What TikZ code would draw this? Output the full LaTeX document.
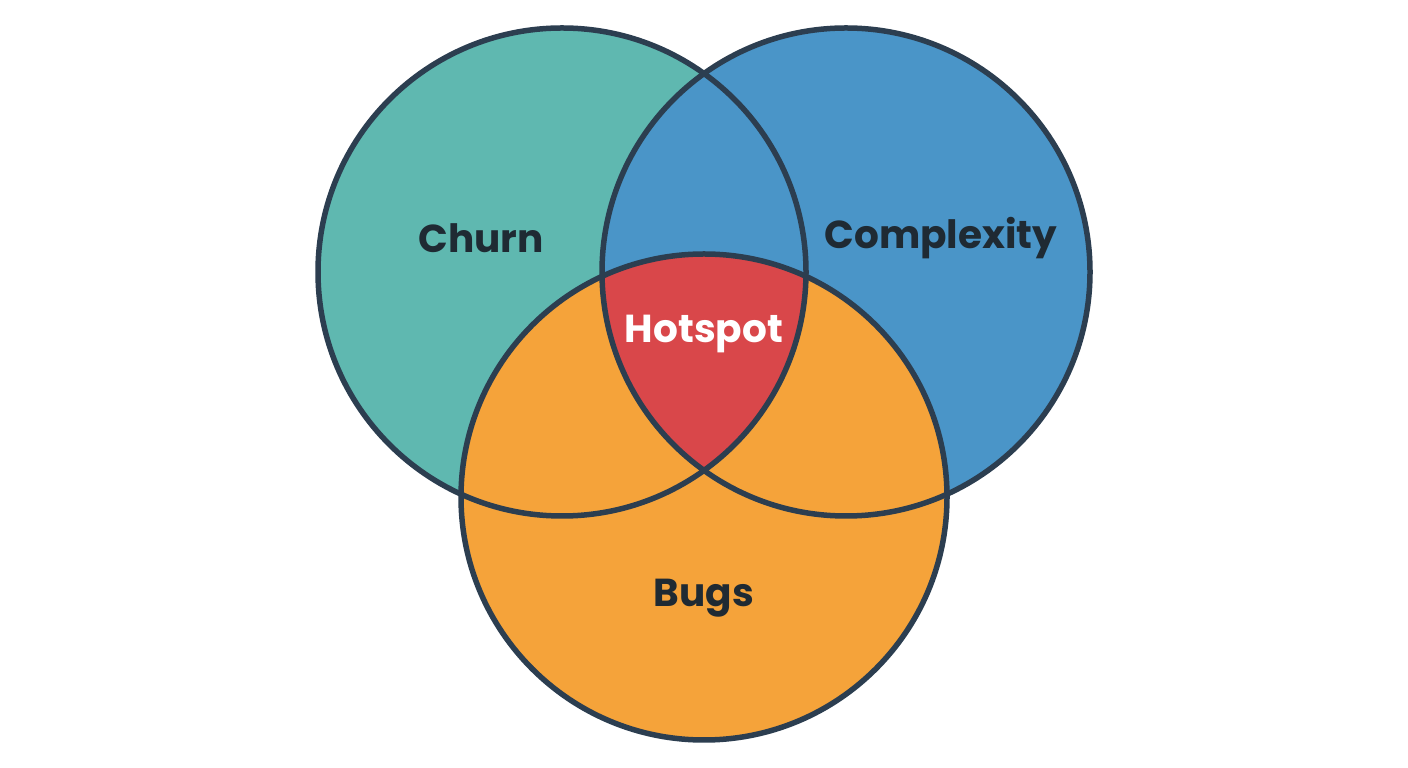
\documentclass[tikz,border=0pt]{standalone}
\usepackage{fontspec}
\setmainfont{Poppins}
\definecolor{teal1}{HTML}{5FB8B0}
\definecolor{blue1}{HTML}{4A95C8}
\definecolor{orange1}{HTML}{F5A33A}
\definecolor{red1}{HTML}{D9474A}
\definecolor{edge1}{HTML}{2C3E50}
\definecolor{txt1}{HTML}{1F2A33}
\begin{document}
\begin{tikzpicture}[x=1pt,y=1pt,
  ring/.style={draw=edge1,line width=5.5pt},
  lbl/.style={font=\fontsize{39}{42}\selectfont\bfseries,text=txt1}]
\useasboundingbox[fill=white] (0,0) rectangle (1408,768);
\coordinate (cA) at (562,496);
\coordinate (cB) at (846,496);
\coordinate (cC) at (704,271);
\fill[teal1] (cA) circle (244);
\fill[blue1] (cB) circle (244);
\fill[orange1] (cC) circle (243);
\begin{scope}
\clip (cA) circle (244);
\clip (cB) circle (244);
\fill[red1] (cC) circle (243);
\end{scope}
\draw[ring] (cA) circle (244);
\draw[ring] (cB) circle (244);
\draw[ring] (cC) circle (243);
\node[lbl] (churn) at (481,530) {Churn};
\node[lbl] (cplx) at (941,530) {Complexity};
\node[lbl] (bugs) at (704,170) {Bugs};
\node[lbl,text=white] (hot) at (704,434) {Hotspot};
\end{tikzpicture}
\end{document}
